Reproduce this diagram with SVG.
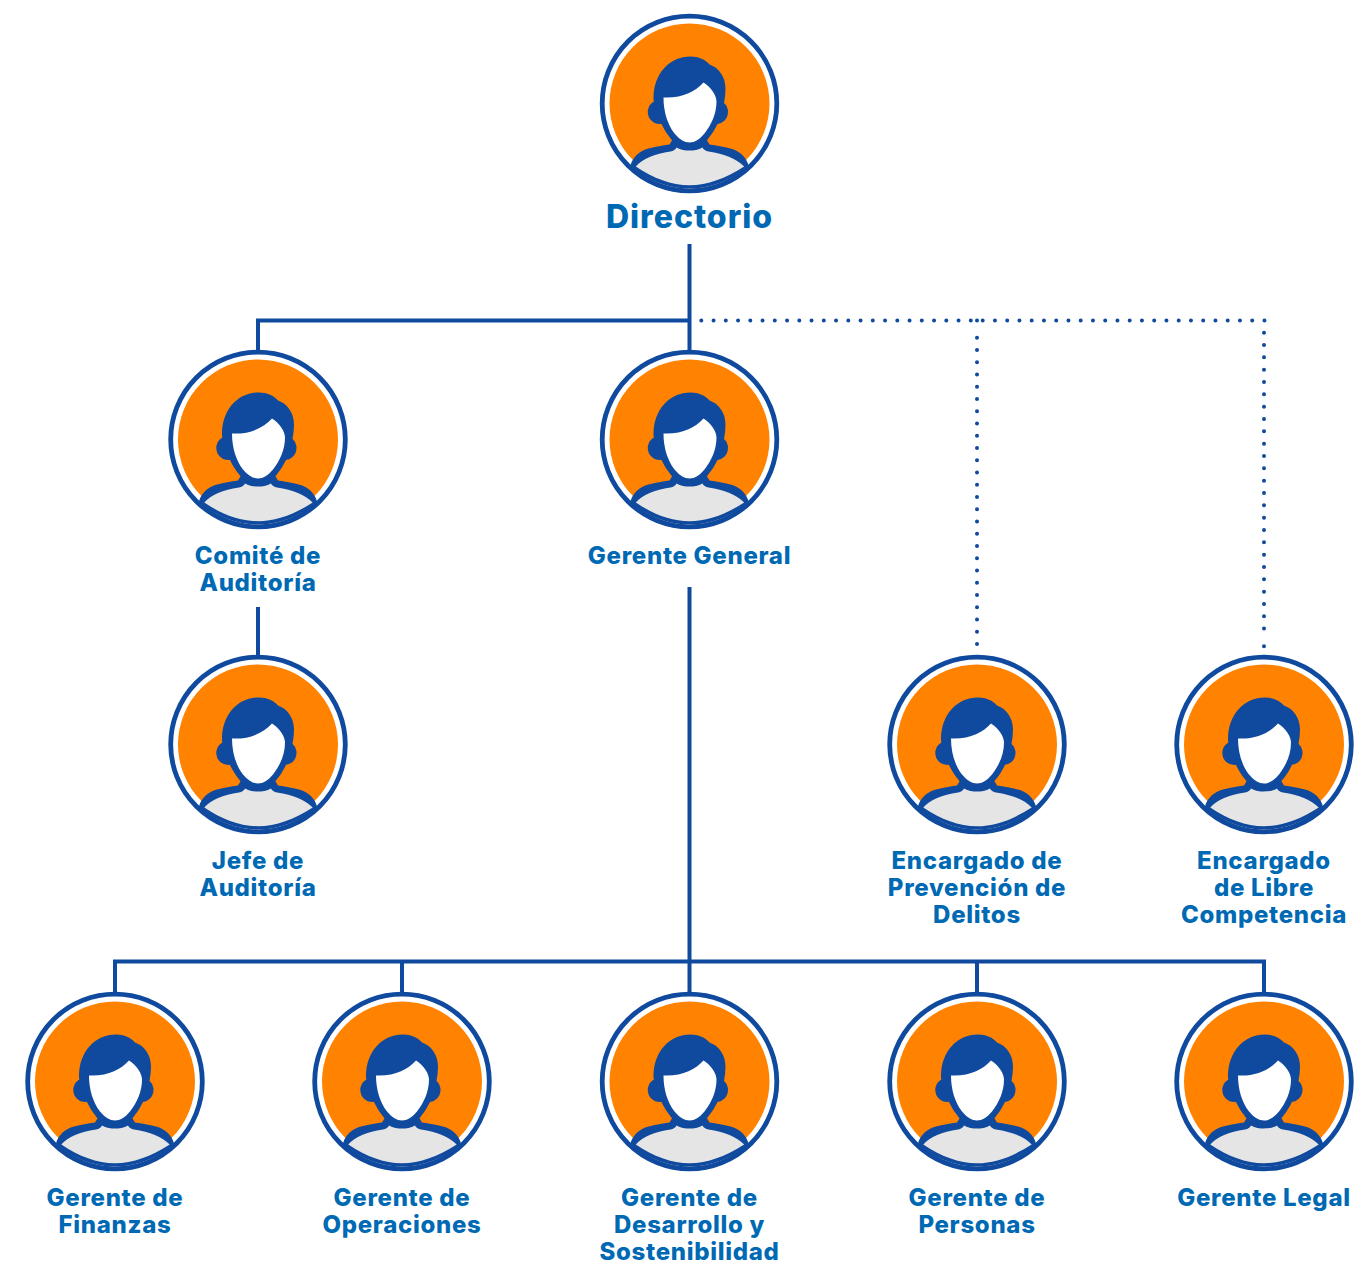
<svg xmlns="http://www.w3.org/2000/svg" width="1355" height="1263" viewBox="0 0 1355 1263">
<style>
text{font-family:"Inter","Open Sans","Liberation Sans",sans-serif;font-weight:800;font-size:24px;letter-spacing:.7px;fill:#0069b4;text-anchor:middle}
.t{font-size:32px;letter-spacing:1px}
.c{fill:none;stroke:#0f4a9e;stroke-width:4}
.d{fill:none;stroke:#0f4a9e;stroke-width:4;stroke-linecap:round;stroke-dasharray:0 12.25}
.e{stroke-dasharray:0 12.33}
</style>
<defs>
<g id="avatar">
<circle r="87.300" fill="#fff" stroke="#0f4a9e" stroke-width="4.800"/>
<circle r="80" fill="#ff8300"/>
<path d="M-59 62C-57 54-50 47-41 45C-34 43-27 42-20 41L-17 36H17L20 41C27 42 34 43 41 45C50 47 57 54 59 62A87 87 0 0 1-59 62Z" fill="#0f4a9e"/>
<path d="M-53.700 63C-47 55-35 50.500-19 48C-16 47.500-14 46-13 44C-9 46.500-4 47 0 47C4 47 9 46.500 13 44C14 46 16 47.500 19 48C35 50.500 47 55 54.700 63C36 75 18 81.700 0 81.700C-18 81.700-36 75-53.700 63Z" fill="#e5e5e5"/>
<circle cx="-29.700" cy="8.500" r="12" fill="#0f4a9e"/>
<circle cx="26.500" cy="8.500" r="12" fill="#0f4a9e"/>
<path d="M-36-5C-36-30-20-47 1-47C9-47 16-44 20-39C29-36 36-27 36-15C36-6 34 3 31 13C26 28 13 46.500 0 46.500C-13 46.500-26 28-31 13C-34 3-36-1-36-5Z" fill="#0f4a9e"/>
<path d="M-26-6C-8-5 6-12 14-21C22-16 27-8 27-2C27 10 22 21 15 30C10 36 5 39 0 39C-5 39-10 36-15 30C-22 21-26 8-26-6Z" fill="#fff"/>
</g>
</defs>
<g id="connectors">
<path class="c" d="M689.500 244V352M258 352V320.500H689.500"/>
<path class="c" d="M258 607V657"/>
<path class="c" d="M689.500 587V993M115 993V961.500H1264V993M402 961.500V993M977 961.500V993"/>
<path class="d" d="M701.300 320.500H971M977 320.500H977.100M982.700 320.500H1264.600"/>
<path class="d" d="M977 337.700V648"/>
<path class="d e" d="M1264 332.700V630M1264 646.300H1264.100"/>
</g>
<g id="directorio"><use href="#avatar" x="689.500" y="103.500"/><text class="t" x="689.500" y="228">Directorio</text></g>
<g id="comite"><use href="#avatar" x="258" y="439.500"/><text x="258" y="564">Comité de</text><text x="258" y="591">Auditoría</text></g>
<g id="gerente-general"><use href="#avatar" x="689.500" y="439.500"/><text x="689.500" y="564">Gerente General</text></g>
<g id="jefe"><use href="#avatar" x="258" y="744.500"/><text x="258" y="869">Jefe de</text><text x="258" y="896">Auditoría</text></g>
<g id="prevencion"><use href="#avatar" x="977" y="744.500"/><text x="977" y="869">Encargado de</text><text x="977" y="896">Prevención de</text><text x="977" y="922.500">Delitos</text></g>
<g id="competencia"><use href="#avatar" x="1264" y="744.500"/><text x="1264" y="869">Encargado</text><text x="1264" y="896">de Libre</text><text x="1264" y="922.500">Competencia</text></g>
<g id="finanzas"><use href="#avatar" x="115" y="1081.500"/><text x="115" y="1206">Gerente de</text><text x="115" y="1233">Finanzas</text></g>
<g id="operaciones"><use href="#avatar" x="402" y="1081.500"/><text x="402" y="1206">Gerente de</text><text x="402" y="1233">Operaciones</text></g>
<g id="desarrollo"><use href="#avatar" x="689.500" y="1081.500"/><text x="689.500" y="1206">Gerente de</text><text x="689.500" y="1233">Desarrollo y</text><text x="689.500" y="1260">Sostenibilidad</text></g>
<g id="personas"><use href="#avatar" x="977" y="1081.500"/><text x="977" y="1206">Gerente de</text><text x="977" y="1233">Personas</text></g>
<g id="legal"><use href="#avatar" x="1264" y="1081.500"/><text x="1264" y="1206">Gerente Legal</text></g>
</svg>
